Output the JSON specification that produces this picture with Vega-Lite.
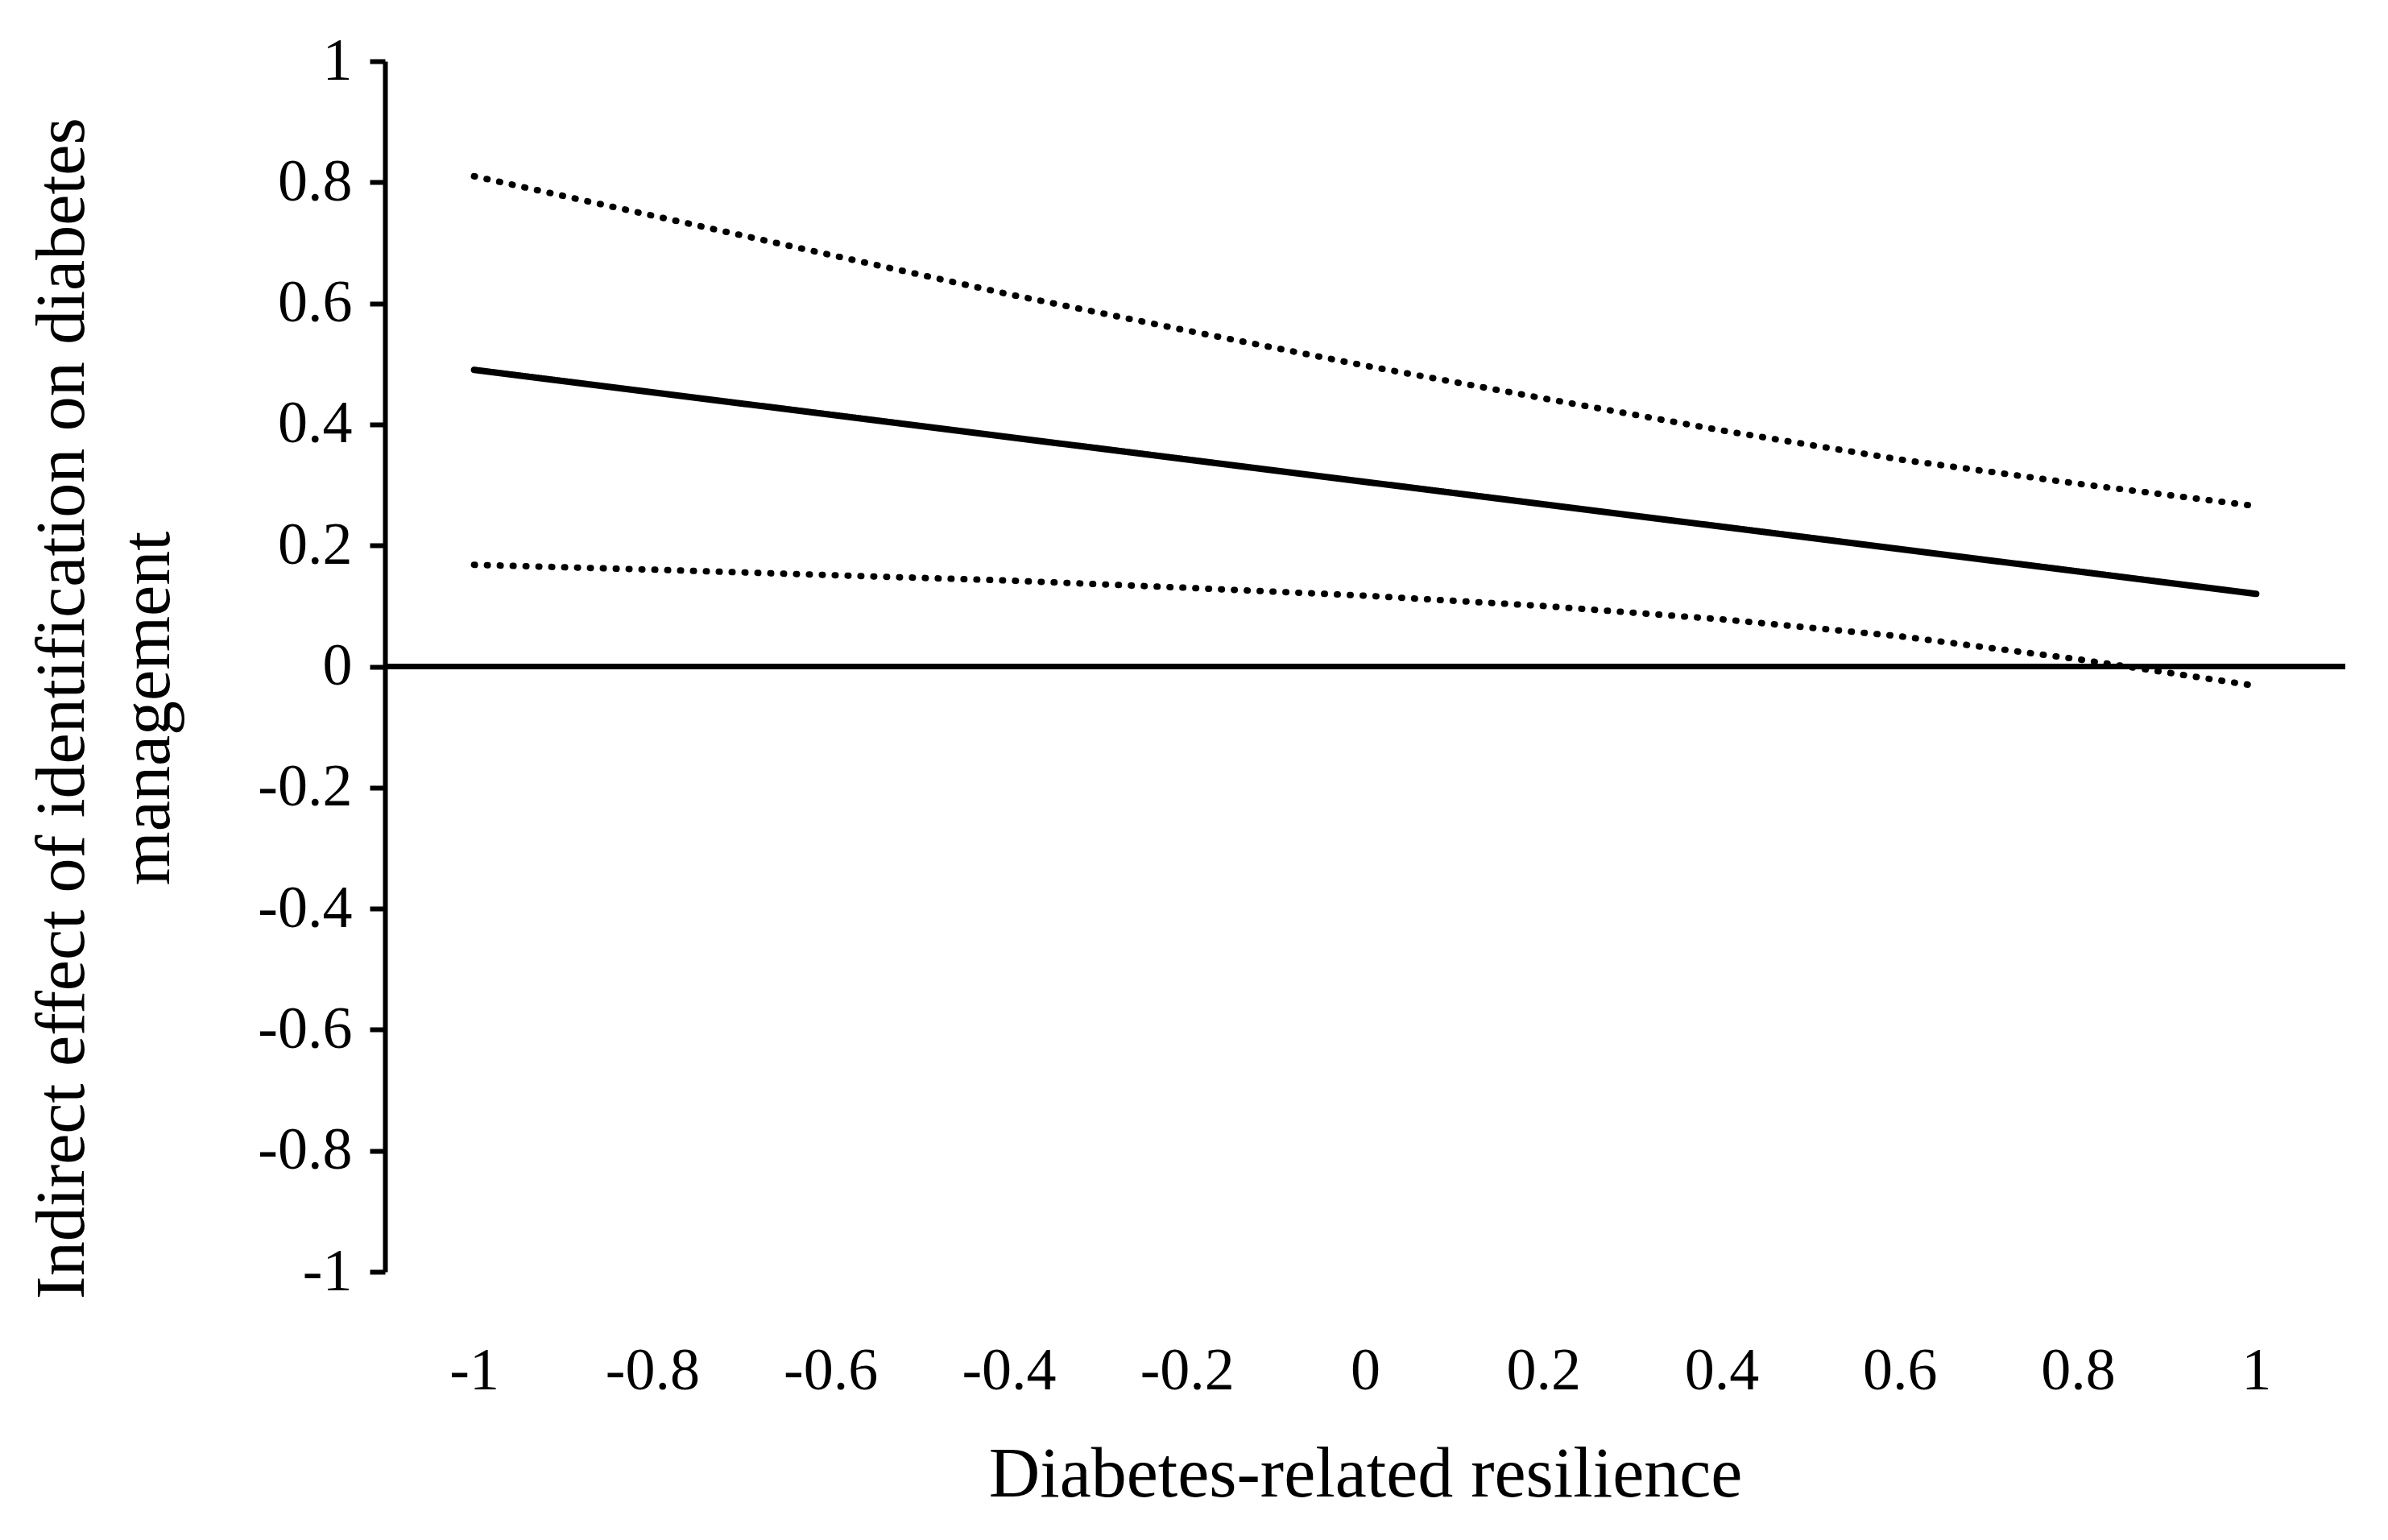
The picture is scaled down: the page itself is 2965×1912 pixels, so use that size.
{
  "$schema": "https://vega.github.io/schema/vega-lite/v6.json",
  "width": 2434,
  "height": 1503,
  "autosize": "none",
  "padding": {"left": 478, "top": 76, "right": 53, "bottom": 333},
  "background": "white",
  "config": {
    "view": {"stroke": null},
    "font": "Liberation Serif",
    "axis": {"grid": false, "labelFont": "Liberation Serif", "titleFont": "Liberation Serif", "labelColor": "black", "titleColor": "black", "titleFontWeight": "normal"}
  },
  "data": {
    "values": [
      {"x": -1, "y": 0.49, "series": "effect"},
      {"x": -0.8, "y": 0.453, "series": "effect"},
      {"x": -0.6, "y": 0.416, "series": "effect"},
      {"x": -0.4, "y": 0.379, "series": "effect"},
      {"x": -0.2, "y": 0.342, "series": "effect"},
      {"x": 0, "y": 0.305, "series": "effect"},
      {"x": 0.2, "y": 0.268, "series": "effect"},
      {"x": 0.4, "y": 0.231, "series": "effect"},
      {"x": 0.6, "y": 0.194, "series": "effect"},
      {"x": 0.8, "y": 0.157, "series": "effect"},
      {"x": 1, "y": 0.12, "series": "effect"},
      {"x": -1, "y": 0.81, "series": "upper"},
      {"x": -0.8, "y": 0.745, "series": "upper"},
      {"x": -0.6, "y": 0.68, "series": "upper"},
      {"x": -0.4, "y": 0.615, "series": "upper"},
      {"x": -0.2, "y": 0.555, "series": "upper"},
      {"x": 0, "y": 0.497, "series": "upper"},
      {"x": 0.2, "y": 0.443, "series": "upper"},
      {"x": 0.4, "y": 0.39, "series": "upper"},
      {"x": 0.6, "y": 0.342, "series": "upper"},
      {"x": 0.8, "y": 0.302, "series": "upper"},
      {"x": 1, "y": 0.265, "series": "upper"},
      {"x": -1, "y": 0.168, "series": "lower"},
      {"x": -0.8, "y": 0.16, "series": "lower"},
      {"x": -0.6, "y": 0.151, "series": "lower"},
      {"x": -0.4, "y": 0.142, "series": "lower"},
      {"x": -0.2, "y": 0.13, "series": "lower"},
      {"x": 0, "y": 0.117, "series": "lower"},
      {"x": 0.2, "y": 0.1, "series": "lower"},
      {"x": 0.4, "y": 0.078, "series": "lower"},
      {"x": 0.6, "y": 0.05, "series": "lower"},
      {"x": 0.8, "y": 0.012, "series": "lower"},
      {"x": 1, "y": -0.032, "series": "lower"}
    ]
  },
  "encoding": {
    "x": {
      "field": "x", "type": "quantitative",
      "scale": {"domain": [-1.1, 1.1], "nice": false, "zero": false},
      "axis": {
        "values": [-1, -0.8, -0.6, -0.4, -0.2, 0, 0.2, 0.4, 0.6, 0.8, 1],
        "labelExpr": "'' + datum.value",
        "domain": false, "ticks": false,
        "labelFontSize": 74, "labelPadding": 87,
        "title": "Diabetes-related resilience", "titleFontSize": 88, "titlePadding": 48
      }
    },
    "y": {
      "field": "y", "type": "quantitative",
      "scale": {"domain": [-1, 1], "nice": false},
      "axis": {
        "values": [-1, -0.8, -0.6, -0.4, -0.2, 0, 0.2, 0.4, 0.6, 0.8, 1],
        "labelExpr": "'' + datum.value",
        "domainColor": "black", "domainWidth": 6,
        "tickColor": "black", "tickWidth": 6, "tickSize": 19,
        "labelFontSize": 74, "labelPadding": 22,
        "title": ["Indirect effect of identification on diabetes", "management"],
        "titleFontSize": 86, "titleLineHeight": 106,
        "titleAngle": -90, "titleBaseline": "middle", "titleAlign": "center",
        "titleX": -401, "titleY": 803
      }
    }
  },
  "layer": [
    {
      "mark": {"type": "rule", "color": "black", "strokeWidth": 6},
      "encoding": {"y": {"datum": 0}, "x": null}
    },
    {
      "mark": {"type": "line", "color": "black", "strokeWidth": 8, "strokeCap": "round"},
      "encoding": {
        "detail": {"field": "series"},
        "strokeDash": {
          "field": "series", "type": "nominal", "legend": null,
          "scale": {"domain": ["effect", "upper", "lower"], "range": [[1, 0], [1, 15], [1, 15]]}
        }
      }
    }
  ]
}
